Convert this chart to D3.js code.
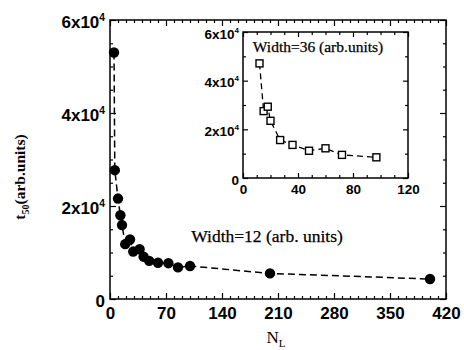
<!DOCTYPE html>
<html><head><meta charset="utf-8">
<script src="https://cdn.jsdelivr.net/npm/d3@7"></script>
<style>
body{margin:0;background:#fff;}
svg{display:block;}
.tk text{font-family:"Liberation Sans",Arial,sans-serif;font-weight:bold;fill:#000;}
.tk path{stroke:none;}
</style></head>
<body><div id="chart"></div>
<script>
// Main series (Width=12)
const mainN = [5, 6, 10, 13, 15, 19, 25, 29, 37, 42, 49, 60, 73, 85, 100, 200, 400];
const mainT = [53000, 27700, 21600, 18000, 15900, 11800, 12800, 10200, 10700, 9100, 8200, 7800, 7700, 6800, 7100, 5500, 4300];
// Inset series (Width=36)
const insetN = [12, 15, 18, 20, 27, 36, 48, 60, 72, 97];
const insetT = [47100, 27500, 29300, 23500, 15600, 13600, 11200, 12200, 9500, 8500];
const mainXTicks = [0, 70, 140, 210, 280, 350, 420];
const mainYTicks = [0, 20000, 40000, 60000];
const insetXTicks = [0, 40, 80, 120];
const insetYTicks = [0, 20000, 40000, 60000];

const W = 464, H = 350;
const svg = d3.select("#chart").append("svg").attr("width", W).attr("height", H);

function sciLabel(sel, fs) {
  sel.each(function(d) {
    const t = d3.select(this);
    t.text(null);
    if (d === 0) { t.text("0"); return; }
    t.append("tspan").text((d / 10000) + "x10");
    t.append("tspan").attr("dy", -fs * 0.45).attr("font-size", fs * 0.6).text("4");
  });
}

function addTicks(g, scale, orient, values, len, x0, y0) {
  const ax = (orient === "bottom" ? d3.axisBottom : orient === "top" ? d3.axisTop : orient === "left" ? d3.axisLeft : d3.axisRight)(scale)
    .tickValues(values).tickSizeInner(-len).tickSizeOuter(0).tickFormat("");
  const gg = g.append("g").attr("class", "tk").attr("transform", `translate(${x0},${y0})`).call(ax);
  gg.selectAll("line").attr("stroke", "#000").attr("stroke-width", 1.2);
  return gg;
}

function panel(cfg) {
  const { ml, mt, pw, ph, xd, yd, xMajor, yMajor, xMinorStep, yMinorStep, fs, major, minor } = cfg;
  const g = svg.append("g");
  const xs = d3.scaleLinear().domain(xd).range([ml, ml + pw]);
  const ys = d3.scaleLinear().domain(yd).range([mt + ph, mt]);
  const xMinor = d3.range(xd[0], xd[1] + 1e-9, xMinorStep).filter(v => !xMajor.includes(v));
  const yMinor = d3.range(yd[0], yd[1] + 1e-9, yMinorStep).filter(v => !yMajor.includes(v));
  addTicks(g, xs, "bottom", xMajor, major, 0, mt + ph);
  addTicks(g, xs, "bottom", xMinor, minor, 0, mt + ph);
  addTicks(g, xs, "top", xMajor, major, 0, mt);
  addTicks(g, xs, "top", xMinor, minor, 0, mt);
  addTicks(g, ys, "left", yMajor, major, ml, 0);
  addTicks(g, ys, "left", yMinor, minor, ml, 0);
  addTicks(g, ys, "right", yMajor, major, ml + pw, 0);
  addTicks(g, ys, "right", yMinor, minor, ml + pw, 0);
  const xl = g.append("g").attr("class", "tk").attr("transform", `translate(0,${mt + ph})`)
    .call(d3.axisBottom(xs).tickValues(xMajor).tickSize(0).tickPadding(cfg.xPad));
  xl.selectAll("text").attr("font-size", fs);
  xl.select(".domain").remove();
  const yl = g.append("g").attr("class", "tk").attr("transform", `translate(${ml},0)`)
    .call(d3.axisLeft(ys).tickValues(yMajor).tickSize(0).tickPadding(cfg.yPad));
  yl.select(".domain").remove();
  yl.selectAll("text").attr("font-size", fs).attr("dy", "0.45em").call(sciLabel, fs);
  g.append("rect").attr("x", ml).attr("y", mt).attr("width", pw).attr("height", ph)
    .attr("fill", "none").attr("stroke", "#000").attr("stroke-width", 1.5);
  return { g, xs, ys };
}

// Main panel
const M = panel({ ml: 110, mt: 20, pw: 336, ph: 279, xd: [0, 420], yd: [0, 60000],
  xMajor: mainXTicks, yMajor: mainYTicks, xMinorStep: 10, yMinorStep: 5000,
  fs: 17, major: 6, minor: 3, xPad: 8, yPad: 5 });
const mainData = mainN.map((n, i) => ({ n, t: mainT[i] }));
M.g.append("path").datum(mainData)
  .attr("d", d3.line().x(d => M.xs(d.n)).y(d => M.ys(d.t)))
  .attr("fill", "none").attr("stroke", "#000").attr("stroke-width", 1.5).attr("stroke-dasharray", "7,4");
M.g.selectAll("circle.pt").data(mainData).enter().append("circle")
  .attr("cx", d => M.xs(d.n)).attr("cy", d => M.ys(d.t)).attr("r", 5.2).attr("fill", "#000");

// Inset panel
svg.append("rect").attr("x", 243).attr("y", 32).attr("width", 165).attr("height", 146).attr("fill", "#fff");
const I = panel({ ml: 243, mt: 32, pw: 165, ph: 146, xd: [0, 120], yd: [0, 60000],
  xMajor: insetXTicks, yMajor: insetYTicks, xMinorStep: 10, yMinorStep: 10000,
  fs: 13.5, major: 5, minor: 3, xPad: 6, yPad: 4 });
const insetData = insetN.map((n, i) => ({ n, t: insetT[i] }));
I.g.append("path").datum(insetData)
  .attr("d", d3.line().x(d => I.xs(d.n)).y(d => I.ys(d.t)))
  .attr("fill", "none").attr("stroke", "#000").attr("stroke-width", 1.3).attr("stroke-dasharray", "6,4");
I.g.selectAll("rect.pt").data(insetData).enter().append("rect")
  .attr("x", d => I.xs(d.n) - 3.5).attr("y", d => I.ys(d.t) - 3.5).attr("width", 7).attr("height", 7)
  .attr("fill", "#fff").attr("stroke", "#000").attr("stroke-width", 1.4);

// Annotations
svg.append("text").attr("x", 267).attr("y", 242).attr("text-anchor", "middle")
  .attr("font-family", "Liberation Serif, Times New Roman, serif").attr("font-size", 17.5)
  .attr("stroke", "#000").attr("stroke-width", 0.25)
  .text("Width=12 (arb. units)");
svg.append("text").attr("x", 318).attr("y", 52).attr("text-anchor", "middle")
  .attr("font-family", "Liberation Serif, Times New Roman, serif").attr("font-size", 15.5)
  .attr("stroke", "#000").attr("stroke-width", 0.25)
  .text("Width=36 (arb.units)");

// Axis titles
const yt = svg.append("text").attr("transform", "translate(25,177) rotate(-90)").attr("text-anchor", "middle")
  .attr("font-family", "Liberation Serif, Times New Roman, serif").attr("font-size", 15.5).attr("font-weight", "bold");
yt.append("tspan").text("t");
yt.append("tspan").attr("dy", 4).attr("font-size", 10).text("50");
yt.append("tspan").attr("dy", -4).text("(arb.units)");
const xt = svg.append("text").attr("x", 276).attr("y", 343).attr("text-anchor", "middle")
  .attr("font-family", "Liberation Serif, Times New Roman, serif").attr("font-size", 17);
xt.append("tspan").text("N");
xt.append("tspan").attr("dy", 4).attr("font-size", 11).text("L");
</script></body></html>
